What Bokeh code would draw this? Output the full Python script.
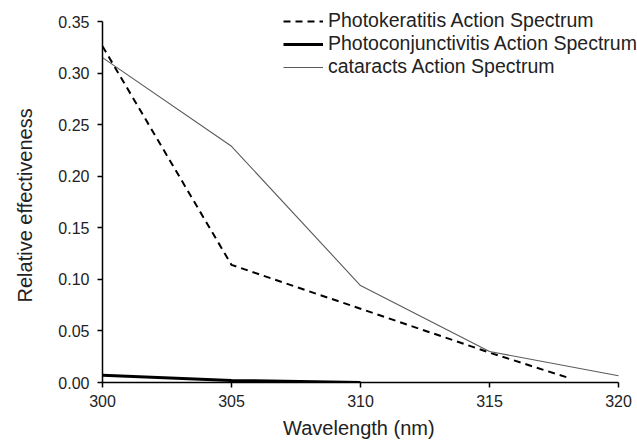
from bokeh.plotting import figure
from bokeh.models import Range1d, FixedTicker, Legend, LegendItem
from bokeh.embed import file_html
from bokeh.resources import INLINE

# Data
kerat_wl = [300, 305, 310, 315, 318]
kerat_val = [0.326, 0.114, 0.0715, 0.029, 0.005]
conj_wl = [300, 305, 310]
conj_val = [0.007, 0.002, 0.0]
cat_wl = [300, 305, 310, 315, 320]
cat_val = [0.315, 0.229, 0.094, 0.030, 0.0065]

x_ticks = [300, 305, 310, 315, 320]
y_ticks = [0.0, 0.05, 0.10, 0.15, 0.20, 0.25, 0.30, 0.35]
y_tick_labels = ["0.00", "0.05", "0.10", "0.15", "0.20", "0.25", "0.30", "0.35"]

names = ["Photokeratitis Action Spectrum",
         "Photoconjunctivitis Action Spectrum",
         "cataracts Action Spectrum"]
x_title = "Wavelength (nm)"
y_title = "Relative effectiveness"

FONT = "Liberation Sans"
NBSP = "\u00a0"

# Frame spans the canvas to the right and top edges so the legend is not clipped;
# axes are bounded to the data extent.
X0, X1 = 300, 320
Y0, Y1 = 0.0, 0.35
px_per_x = (618 - 102) / (X1 - X0)
px_per_y = (382 - 21) / (Y1 - Y0)

p = figure(width=637, height=442, output_backend="svg", toolbar_location=None,
           x_range=Range1d(X0, X1 + 19 / px_per_x),
           y_range=Range1d(Y0, Y1 + 21 / px_per_y),
           min_border_left=102, min_border_right=0, min_border_top=0,
           min_border_bottom=60)
p.outline_line_color = None
p.xgrid.grid_line_color = None
p.ygrid.grid_line_color = None
p.background_fill_color = "white"
p.border_fill_color = "white"

r1 = p.line(kerat_wl, kerat_val, line_color="black", line_width=2, line_dash="7 5")
r2 = p.line(conj_wl, conj_val, line_color="black", line_width=3)
r3 = p.line(cat_wl, cat_val, line_color="#5a5a5a", line_width=1.1)

for ax in (p.xaxis[0], p.yaxis[0]):
    ax.axis_line_color = "black"
    ax.axis_line_width = 1.5
    ax.major_tick_line_color = "black"
    ax.major_tick_line_width = 1.5
    ax.major_tick_out = 5
    ax.major_tick_in = 0
    ax.minor_tick_line_color = None
    ax.major_label_text_font = FONT
    ax.major_label_text_font_size = "16px"
    ax.major_label_text_color = "#222222"
    ax.axis_label_text_font = FONT
    ax.axis_label_text_font_size = "20px"
    ax.axis_label_text_font_style = "normal"
    ax.axis_label_text_color = "#222222"

p.xaxis[0].bounds = (X0, X1)
p.yaxis[0].bounds = (Y0, Y1)
p.xaxis[0].ticker = FixedTicker(ticks=x_ticks)
p.yaxis[0].ticker = FixedTicker(ticks=y_ticks)
p.yaxis[0].major_label_overrides = {t: l for t, l in zip(y_ticks, y_tick_labels)}
# axis titles are centred on the (extended) frame; trailing no-break spaces
# re-centre the visible text on the axis extent
p.xaxis[0].axis_label = x_title + NBSP * 4
p.yaxis[0].axis_label = y_title + NBSP * 5
p.xaxis[0].major_label_standoff = 7
p.xaxis[0].axis_label_standoff = 7
p.yaxis[0].major_label_standoff = 8
p.yaxis[0].axis_label_standoff = 19

legend = Legend(items=[LegendItem(label=names[0], renderers=[r1]),
                       LegendItem(label=names[1], renderers=[r2]),
                       LegendItem(label=names[2], renderers=[r3])],
                location=(181, 304))
legend.border_line_color = None
legend.background_fill_alpha = 0
legend.margin = 0
legend.padding = 0
legend.spacing = 0
legend.label_height = 22
legend.glyph_height = 22
legend.glyph_width = 40
legend.label_standoff = 5
legend.label_text_font = FONT
legend.label_text_font_size = "19.5px"
legend.label_text_color = "#222222"
p.add_layout(legend, "center")

open("out.html", "w").write(file_html(p, INLINE))
